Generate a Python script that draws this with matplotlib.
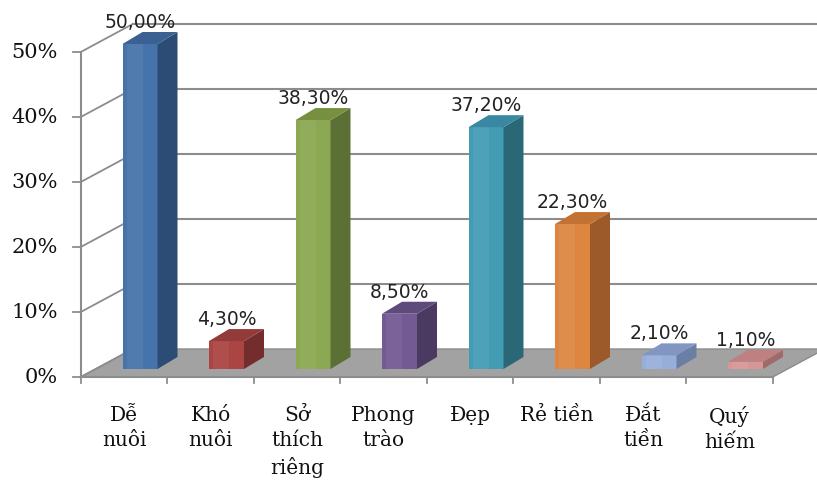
import matplotlib
matplotlib.use("Agg")
import matplotlib.pyplot as plt
from matplotlib.patches import Polygon

# ---- data ----
categories = ["Dễ\nnuôi", "Khó\nnuôi", "Sở\nthích\nriêng", "Phong\ntrào",
              "Đẹp", "Rẻ tiền", "Đắt\ntiền", "Quý\nhiếm"]
values = [50.0, 4.3, 38.3, 8.5, 37.2, 22.3, 2.1, 1.1]
yticks = [0, 10, 20, 30, 40, 50]

front_cols = ["#4573AA", "#AA4543", "#8BA852", "#735A93", "#429CB4", "#DE8640", "#97AEDA", "#D69696"]
side_cols = ["#2D4C75", "#722D2C", "#5C7035", "#4A3A62", "#2A6878", "#9C5A2B", "#6B7FA4", "#A06A6A"]
top_cols = ["#3A6192", "#933B39", "#76903F", "#5F4A7C", "#3788A0", "#C47233", "#8197C2", "#BE8080"]

GRID = "#8C8C8C"
FLOOR = "#A2A2A2"

# pixel scale of the drawing (data units per pixel)
PX = 1 / 86.5
PY = 1 / 6.5

fig = plt.figure(figsize=(8.17, 4.81), dpi=100, facecolor="white")
ax = fig.add_axes([0, 0, 1, 1])
ax.set_xlim(-124 * PX, (817 - 124) * PX)
ax.set_ylim((378 - 481) * PY, 378 * PY)
ax.axis("off")

n = len(categories)
x0, x1 = -0.5, n - 0.5
fdx, fdy = 52 * PX, 28 * PY      # depth of floor / walls
ymax = yticks[-1]

# floor
floor = Polygon([(x0, 0), (x1, 0), (x1 + fdx, fdy), (x0 + fdx, fdy)],
                closed=True, facecolor=FLOOR, edgecolor=GRID, lw=1.0, zorder=1)
ax.add_patch(floor)

# back wall grid + left wall lines
for t in yticks:
    if t > 0:
        ax.plot([x0 + fdx, x1 + fdx + 1], [t + fdy, t + fdy], color=GRID, lw=1.5, zorder=0.5)
    ax.plot([x0, x0 + fdx], [t, t + fdy], color=GRID, lw=1.3, zorder=2)
    ax.plot([x0 - 8 * PX, x0], [t, t], color=GRID, lw=1.3, zorder=2)
    ax.text(x0 - 23 * PX, t, f"{t}%", ha="right", va="center",
            fontsize=15, family="DejaVu Serif", color="#111111")
ax.plot([x0, x0], [0, ymax], color=GRID, lw=1.5, zorder=2)
ax.plot([x0, x1], [0, 0], color=GRID, lw=1.5, zorder=2)

# category ticks and labels
for k in range(n + 1):
    ax.plot([k - 0.5, k - 0.5], [0, -6 * PY], color=GRID, lw=1.3, zorder=2)
for k, lab in enumerate(categories):
    ax.text(k, -28 * PY, lab, ha="center", va="top", fontsize=14.5,
            family="DejaVu Serif", linespacing=1.42, color="#111111")

# bars
off_x, off_y = 16 * PX, 8 * PY     # bar front face inset into the floor
sx, sy = 20 * PX, 12 * PY          # bar depth
half = 17.5 * PX
for k, v in enumerate(values):
    xl = k + off_x - half
    xr = k + off_x + half
    yb = off_y
    yt = v + off_y
    ax.add_patch(Polygon([(xl, yb), (xr, yb), (xr, yt), (xl, yt)], closed=True,
                         facecolor=front_cols[k], edgecolor="none", zorder=3))
    ax.add_patch(Polygon([(xl + 4 * PX, yb), (xl + 20 * PX, yb), (xl + 20 * PX, yt), (xl + 4 * PX, yt)],
                         closed=True, facecolor="white", alpha=0.06, edgecolor="none", zorder=3.1))
    ax.add_patch(Polygon([(xr, yb), (xr + sx, yb + sy), (xr + sx, yt + sy), (xr, yt)], closed=True,
                         facecolor=side_cols[k], edgecolor="none", zorder=3))
    ax.add_patch(Polygon([(xl, yt), (xr, yt), (xr + sx, yt + sy), (xl + sx, yt + sy)], closed=True,
                         facecolor=top_cols[k], edgecolor="none", zorder=3))
    ax.text(k + off_x, v + off_y + 17 * PY, f"{v:.2f}%".replace(".", ","),
            ha="center", va="baseline", fontsize=13.5, family="DejaVu Sans",
            color="#222222", zorder=4)

fig.savefig("out.png", dpi=100, facecolor="white")
